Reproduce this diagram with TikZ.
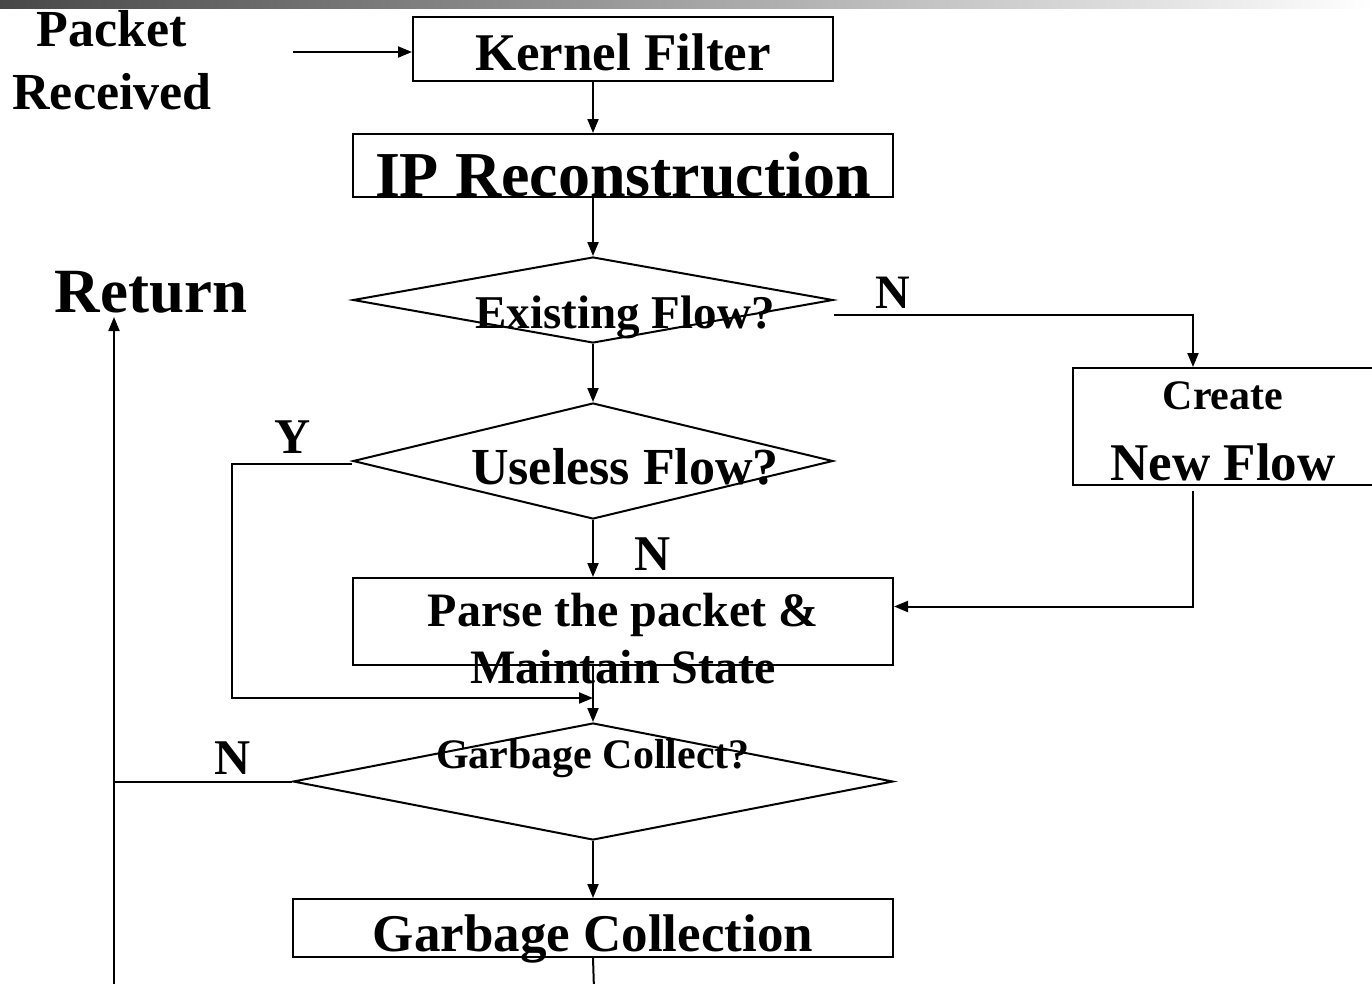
\documentclass[tikz,border=0pt]{standalone}
\usepackage{fontspec}
\setmainfont{Liberation Serif}
\usetikzlibrary{shapes.geometric,calc,arrows.meta}

\begin{document}
\begin{tikzpicture}[x=1pt,y=-1pt,
  box/.style={draw,line width=2pt,inner sep=0pt},
  dia/.style={diamond,draw,line width=2pt,inner sep=0pt},
  ln/.style={line width=2pt},
  arr/.style={ln,-{Triangle[length=14pt,width=11pt]}},
  txt/.style={anchor=base,inner sep=0pt,font=\bfseries\fontsize{#1}{#1}\selectfont}]

\useasboundingbox (0,0) rectangle (1372,983);
\clip (0,0) rectangle (1372,983);
\shade[left color=black!72,right color=white] (0,0) rectangle (1372,8);

\draw (623,49) node(KF)[box,minimum width=420pt,minimum height=64pt]{};
\draw (623,165.5) node(IP)[box,minimum width=540pt,minimum height=63pt]{};
\draw (593,300) node(EX)[dia,minimum width=480pt,minimum height=86pt]{};
\draw (593,461) node(UF)[dia,minimum width=480pt,minimum height=116pt]{};
\draw (1223,426.5) node(CN)[box,minimum width=300pt,minimum height=117pt]{};
\draw (623,621.5) node(PS)[box,minimum width=540pt,minimum height=87pt]{};
\draw (593,781.5) node(GC)[dia,minimum width=600pt,minimum height=117pt]{};
\draw (593,928) node(GB)[box,minimum width=600pt,minimum height=58pt]{};

\draw (112,46) node(PKT)[txt=52]{Packet};
\draw (112,109) node(RCV)[txt=52]{Received};
\draw (151,312) node(RT)[txt=63]{Return};
\draw (623,70) node(KFT)[txt=53]{Kernel Filter};
\draw (623,196) node(IPT)[txt=64]{IP Reconstruction};
\draw (625,328) node(EXT)[txt=47]{Existing Flow?};
\draw (625,484) node(UFT)[txt=52]{Useless Flow?};
\draw (1223,409) node(CNT1)[txt=42]{Create};
\draw (1223,480) node(CNT2)[txt=53]{New Flow};
\draw (623,626) node(PST1)[txt=48]{Parse the packet \&};
\draw (623,683) node(PST2)[txt=48]{Maintain State};
\draw (593,768) node(GCT)[txt=42]{Garbage Collect?};
\draw (593,951) node(GBT)[txt=53]{Garbage Collection};

\draw (893,308) node(NEX)[txt=48]{N};
\draw (293,453) node(YUF)[txt=50]{Y};
\draw (653,570) node(NUF)[txt=50]{N};
\draw (233,774) node(NGC)[txt=50]{N};

\coordinate (IN) at (293,52);
\coordinate (LP) at (114,990);
\coordinate (BOT) at (594,990);
\coordinate (JN) at ($(PS.south -| GC)+(0,32)$);

\draw[arr] (IN) -- (IN -| KF.west);
\draw[arr] (EX |- KF.south) -- (EX |- IP.north);
\draw[arr] (EX |- IP.south) -- (EX.north);
\draw[arr] (EX.south) -- (UF.north);
\draw[arr] (UF.south) -- (UF.south |- PS.north);
\draw[arr] (PS.south -| GC) -- (GC.north);
\draw[arr] (GC.south) -- (GB.north);
\draw[ln] (GB.south) -- (BOT);

\draw[arr] ($(EX.east)+(0,15)$) -| ($(CN.north)+(-30,0)$);
\draw[arr] ($(CN.south)+(-30,5)$) |- ($(PS.east)+(0,-15)$);
\draw[arr] ($(UF.west)+(0,3)$) -- ++(-120,0) |- (JN);
\draw[ln] (GC.west) -- (GC.west -| LP);
\draw[arr] (LP) -- ($(LP |- RT.base)+(0,5)$);

\end{tikzpicture}
\end{document}
